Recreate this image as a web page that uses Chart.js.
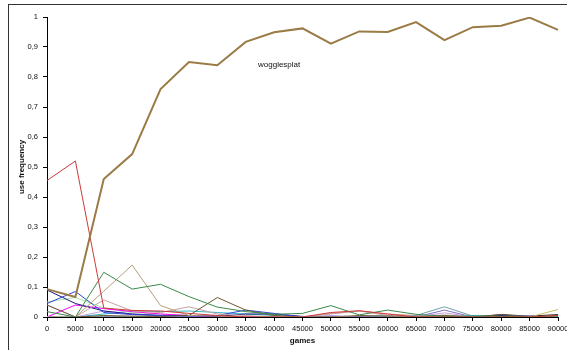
<!DOCTYPE html>
<html>
<head>
<meta charset="utf-8">
<script src="https://cdn.jsdelivr.net/npm/chart.js@4"></script>
<style>
  html, body { margin: 0; padding: 0; background: #fff; overflow: hidden; }
  #wrap { position: relative; width: 567px; height: 350px; }
  #frame { position: absolute; left: 8px; top: 4px; width: 620px; height: 400px; border: 1px solid #333; }
  #chart-box { position: absolute; left: 0; top: 0; width: 567px; height: 350px; }
</style>
</head>
<body>
<div id="wrap">
  <div id="frame"></div>
  <div id="chart-box"><canvas id="useChart"></canvas></div>
</div>
<script>
// datos
const games = ['0', '5000', '10000', '15000', '20000', '25000', '30000', '35000', '40000', '45000',
  '50000', '55000', '60000', '65000', '70000', '75000', '80000', '85000', '90000'];

const wogglesplat = [0.093, 0.067, 0.46, 0.543, 0.76, 0.85, 0.839, 0.917, 0.949, 0.962, 0.911, 0.952, 0.95, 0.983, 0.923, 0.966, 0.971, 0.998, 0.957];
const redSeries   = [0.455, 0.52, 0.03, 0.022, 0.02, 0.012, 0.005, 0, 0, 0, 0.015, 0.021, 0.01, 0, 0, 0, 0, 0, 0.005];
const greenSeries = [0.018, 0, 0.149, 0.093, 0.109, 0.068, 0.033, 0.018, 0.009, 0.012, 0.038, 0.007, 0.023, 0.009, 0.002, 0.003, 0.002, 0, 0];
const tanSeries   = [0, 0, 0.086, 0.173, 0.038, 0.005, 0.003, 0, 0, 0, 0, 0, 0, 0, 0, 0, 0, 0, 0];
const oliveSeries = [0.04, 0, 0.005, 0.003, 0.002, 0.005, 0.065, 0.023, 0.005, 0, 0, 0.005, 0.003, 0, 0.005, 0, 0.008, 0, 0.005];
const rosySeries  = [0, 0, 0.057, 0.02, 0.015, 0.034, 0.01, 0.005, 0, 0, 0.01, 0.02, 0.005, 0, 0.007, 0, 0, 0, 0];
const blueSeries  = [0.045, 0.085, 0.015, 0.008, 0.005, 0.003, 0.005, 0.023, 0.012, 0, 0, 0, 0.002, 0, 0, 0, 0.003, 0, 0];
const navySeries  = [0.09, 0.045, 0.02, 0.01, 0.005, 0.005, 0.002, 0.01, 0.01, 0.002, 0, 0, 0, 0, 0, 0, 0.005, 0, 0];
const pinkSeries  = [0, 0.04, 0.028, 0.018, 0.01, 0.005, 0, 0, 0, 0, 0, 0, 0, 0, 0, 0, 0, 0, 0];
const mintSeries  = [0.05, 0.065, 0.03, 0.015, 0.01, 0.005, 0.002, 0, 0, 0, 0, 0, 0, 0, 0, 0, 0, 0, 0];
const lilacSeries = [0.04, 0, 0.02, 0.01, 0.005, 0, 0, 0, 0, 0, 0.005, 0, 0, 0, 0.014, 0, 0, 0, 0];
const cyanSeries  = [0, 0, 0.01, 0.02, 0.018, 0.02, 0.015, 0.01, 0.005, 0, 0.003, 0, 0.005, 0, 0, 0.005, 0.005, 0, 0];
const tealSeries  = [0, 0, 0, 0, 0, 0, 0, 0, 0, 0, 0, 0, 0, 0.005, 0.034, 0.003, 0, 0, 0];
const purpleSeries= [0, 0, 0, 0, 0, 0, 0, 0, 0, 0, 0, 0, 0, 0, 0.023, 0, 0.005, 0.003, 0];
const salmonSeries= [0, 0, 0, 0, 0, 0, 0, 0, 0, 0, 0.012, 0.02, 0.01, 0.005, 0, 0, 0, 0, 0];
const yellowSeries= [0, 0, 0, 0, 0, 0, 0, 0, 0, 0, 0, 0, 0, 0, 0, 0, 0, 0, 0.025];
const blackSeries = [0, 0, 0, 0, 0, 0, 0, 0, 0, 0, 0, 0, 0, 0, 0, 0, 0.008, 0.003, 0.008];

const yTicks = [0, 0.1, 0.2, 0.3, 0.4, 0.5, 0.6, 0.7, 0.8, 0.9, 1];

const FONT = "'Liberation Sans', Arial, sans-serif";

function thin(data, color) {
    return { data: data, borderColor: color, borderWidth: 1, pointRadius: 0, tension: 0 };
}

// etiqueta de la serie principal
const seriesLabel = {
    id: 'seriesLabel',
    afterDatasetsDraw(chart) {
        const ctx = chart.ctx;
        ctx.save();
        ctx.font = '8px ' + FONT;
        ctx.fillStyle = '#111';
        ctx.textAlign = 'left';
        ctx.textBaseline = 'middle';
        ctx.fillText('wogglesplat', 258, 65);
        ctx.restore();
    }
};

function initChart() {
    const ctx = document.getElementById('useChart').getContext('2d');
    new Chart(ctx, {
        type: 'line',
        data: {
            labels: games,
            datasets: [
                { label: 'wogglesplat', data: wogglesplat, borderColor: '#9a7b45', borderWidth: 2, pointRadius: 0, tension: 0 },
                thin(redSeries, '#cc3a3a'),
                thin(greenSeries, '#3a8a4a'),
                thin(tanSeries, '#b5a07a'),
                thin(oliveSeries, '#6b5a30'),
                thin(rosySeries, '#c8a0a0'),
                thin(blueSeries, '#3344dd'),
                thin(navySeries, '#1a1a80'),
                thin(pinkSeries, '#ff00ff'),
                thin(mintSeries, '#a8e8a8'),
                thin(lilacSeries, '#c0a0e0'),
                thin(cyanSeries, '#30b8c8'),
                thin(tealSeries, '#70a0a8'),
                thin(purpleSeries, '#8070c0'),
                thin(salmonSeries, '#e09090'),
                thin(yellowSeries, '#c8c060'),
                thin(blackSeries, '#222222')
            ]
        },
        options: {
            responsive: true,
            maintainAspectRatio: false,
            devicePixelRatio: 1,
            animation: false,
            layout: { padding: { top: 17, right: 9, bottom: 0, left: 0 } },
            plugins: {
                legend: { display: false },
                tooltip: { enabled: false }
            },
            scales: {
                x: {
                    type: 'category',
                    offset: false,
                    grid: { display: true, drawOnChartArea: false, drawTicks: true, tickLength: 4, color: '#000' },
                    border: { display: true, color: '#000', width: 1 },
                    ticks: { color: '#111', font: { family: FONT, size: 7.5 }, maxRotation: 0, autoSkip: false, padding: 3 },
                    title: { display: true, text: 'games', color: '#111', font: { family: FONT, size: 8, weight: 'bold' }, padding: { top: 0, bottom: 4 } },
                    afterFit: s => { s.height = 33; s.paddingLeft = 0; s.paddingRight = 0; }
                },
                y: {
                    min: 0,
                    max: 1,
                    afterBuildTicks: s => { s.ticks = yTicks.map(v => ({ value: v })); },
                    grid: { display: true, drawOnChartArea: false, drawTicks: true, tickLength: 4, color: '#000' },
                    border: { display: true, color: '#000', width: 1 },
                    ticks: {
                        color: '#111',
                        font: { family: FONT, size: 7.5 },
                        padding: 5,
                        callback: v => (v === 0 || v === 1) ? String(v) : v.toFixed(1).replace('.', ',')
                    },
                    title: { display: true, text: 'use frequency', color: '#111', font: { family: FONT, size: 8, weight: 'bold' }, padding: { top: 17, bottom: 0 } },
                    afterFit: s => { s.width = 47; s.paddingTop = 0; s.paddingBottom = 0; }
                }
            }
        },
        plugins: [seriesLabel]
    });
}

window.onload = () => {
    initChart();
};
</script>
</body>
</html>
